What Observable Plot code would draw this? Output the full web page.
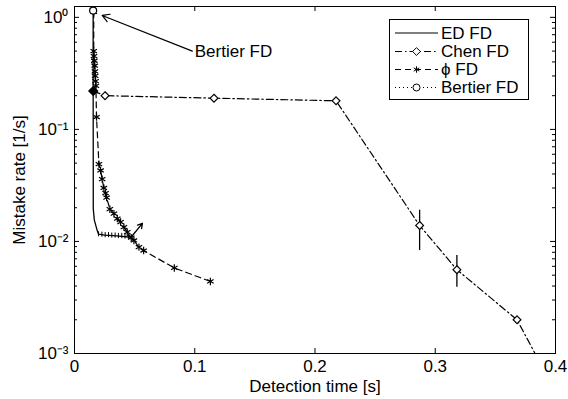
<!DOCTYPE html>
<html><head><meta charset="utf-8">
<script src="https://cdn.jsdelivr.net/npm/d3@7"></script>
<script src="https://cdn.jsdelivr.net/npm/@observablehq/plot@0.6"></script>
<style>
html,body{margin:0;padding:0;background:#fff;}
#chart{width:568px;height:399px;}
</style></head><body><div id="chart"></div>
<script>
// ---- data ----
const xTicks = [0, 0.1, 0.2, 0.3, 0.4];
const xTickLabels = ["0", "0.1", "0.2", "0.3", "0.4"];
const yTicks = [0.001, 0.01, 0.1, 1];
const yTickLabels = ["10\u207B\u00B3", "10\u207B\u00B2", "10\u207B\u00B9", "10\u2070"];
const yMinorTicks = [0.002,0.003,0.004,0.005,0.006,0.007,0.008,0.009,
                     0.02,0.03,0.04,0.05,0.06,0.07,0.08,0.09,
                     0.2,0.3,0.4,0.5,0.6,0.7,0.8,0.9];

const seriesNames = ["ED FD", "Chen FD", "\u03D5 FD", "Bertier FD"];

// ED FD (solid)
const edX = [0.0155, 0.0155, 0.0156, 0.0156, 0.0165, 0.0189, 0.0200, 0.0250, 0.0350, 0.0470];
const edY = [1.15,   0.25,   0.05,   0.0196, 0.0155, 0.0125, 0.0116, 0.0114, 0.0112, 0.0109];
const edTailX = [0.0470, 0.0565];
const edTailY = [0.0109, 0.0145];
const edErrX  = [0.0200, 0.0228, 0.0255, 0.0283, 0.0310, 0.0338, 0.0365, 0.0393, 0.0420, 0.0448];
const edErrLo = [0.0110, 0.0109, 0.0108, 0.0108, 0.0107, 0.0107, 0.0106, 0.0106, 0.0105, 0.0104];
const edErrHi = [0.0122, 0.0121, 0.0120, 0.0120, 0.0119, 0.0119, 0.0118, 0.0118, 0.0117, 0.0116];

// Chen FD (dash-dot, diamonds)
const chenX = [0.0156, 0.0254, 0.116, 0.2175, 0.287,  0.318,  0.368,  0.383];
const chenY = [0.22,   0.20,   0.19,  0.18,   0.0139, 0.0056, 0.0020, 0.0010];
const chenErrX  = [0.287,  0.318];
const chenErrLo = [0.0083, 0.0039];
const chenErrHi = [0.019,  0.0075];

// phi FD (dashed, asterisks)
const phiX = [0.0160, 0.0160, 0.0162, 0.0165, 0.0168, 0.0170, 0.0172, 0.0175, 0.0178, 0.0183,
              0.0203, 0.0217, 0.0230, 0.0244, 0.0258, 0.0267, 0.0294, 0.0328, 0.0356, 0.0383,
              0.0411, 0.0439, 0.0472, 0.0494, 0.0536, 0.0575, 0.083, 0.113];
const phiY = [1.12,   0.50,   0.45,   0.41,   0.37,   0.33,   0.30,   0.27,   0.245,  0.129,
              0.049,  0.043,  0.036,  0.030,  0.027,  0.0246, 0.0194, 0.0177, 0.0160, 0.0149,
              0.0134, 0.0121, 0.0108, 0.0102, 0.0089, 0.0083, 0.0058, 0.0044];

// Bertier FD (dotted, circles)
const bertX = [0.0155];
const bertY = [1.15];

// annotation
const annText = "Bertier FD";
const annX = 0.1, annY = 0.5;
const annArrowX = [0.098, 0.023];
const annArrowY = [0.50, 1.04];

// ---- build ----
const pts = (xs, ys) => xs.map((x, i) => ({x, y: ys[i]}));
const ed = pts(edX, edY);
const chen = pts(chenX, chenY);
const phi = pts(phiX, phiY);
const bert = pts(bertX, bertY);
const edErr = edErrX.map((x, i) => ({x, lo: edErrLo[i], hi: edErrHi[i]}));
const chenErr = chenErrX.map((x, i) => ({x, lo: chenErrLo[i], hi: chenErrHi[i]}));

const W = 568, H = 399, mL = 74, mR = 13, mT = 6, mB = 46;
const pw = W - mL - mR, ph = H - mT - mB;
const font = "'Liberation Sans', Arial, Helvetica, sans-serif";
const fs = 17;

const plot = Plot.plot({
  width: W, height: H,
  marginLeft: mL, marginRight: mR, marginTop: mT, marginBottom: mB,
  style: {fontFamily: font, fontSize: fs + "px", background: "#fff", color: "#000"},
  x: {domain: [0, 0.4]},
  y: {type: "log", domain: [0.001, 1.25]},
  marks: [
    Plot.axisX({ticks: xTicks, tickSize: 0, tickPadding: 6,
      tickFormat: d => xTickLabels[xTicks.indexOf(d)],
      label: "Detection time [s]", labelAnchor: "center", labelOffset: 38, labelArrow: "none"}),
    Plot.axisY({ticks: yTicks, tickSize: 0, tickPadding: 6,
      tickFormat: d => yTickLabels[yTicks.indexOf(d)],
      label: "Mistake rate [1/s]", labelAnchor: "center", labelOffset: 62, labelArrow: "none"}),
    // inward ticks
    Plot.tickX(xTicks, {insetTop: ph - 5, stroke: "#000"}),
    Plot.tickX(xTicks, {insetBottom: ph - 5, stroke: "#000"}),
    Plot.tickY(yTicks, {insetRight: pw - 5, stroke: "#000"}),
    Plot.tickY(yTicks, {insetLeft: pw - 5, stroke: "#000"}),
    Plot.tickY(yMinorTicks, {insetRight: pw - 3, stroke: "#000"}),
    Plot.tickY(yMinorTicks, {insetLeft: pw - 3, stroke: "#000"}),
    // series
    Plot.line(chen, {x: "x", y: "y", stroke: "#000", strokeWidth: 1.2, strokeDasharray: "7,3,1.5,3"}),
    Plot.ruleX(chenErr, {x: "x", y1: "lo", y2: "hi", stroke: "#000", strokeWidth: 1.3}),
    Plot.line(phi, {x: "x", y: "y", stroke: "#000", strokeWidth: 1.2, strokeDasharray: "6,4"}),
    Plot.line(ed, {x: "x", y: "y", stroke: "#000", strokeWidth: 1.3}),
    Plot.arrow([0], {x1: () => edTailX[0], y1: () => edTailY[0], x2: () => edTailX[1], y2: () => edTailY[1],
      stroke: "#000", strokeWidth: 1.3, headLength: 6}),
    Plot.ruleX(edErr, {x: "x", y1: "lo", y2: "hi", stroke: "#000", strokeWidth: 1}),
    Plot.dot(phi, {x: "x", y: "y", symbol: "asterisk", r: 3.5, stroke: "#000", strokeWidth: 1.2}),
    Plot.dot(chen.slice(1, 7), {x: "x", y: "y", symbol: "diamond2", r: 3.5, fill: "#fff", stroke: "#000", strokeWidth: 1.2}),
    Plot.dot(chen.slice(0, 1), {x: "x", y: "y", symbol: "diamond2", r: 3.8, fill: "#000", stroke: "#000"}),
    Plot.line(bert, {x: "x", y: "y", stroke: "#000", strokeDasharray: "1,3"}),
    Plot.dot(bert, {x: "x", y: "y", symbol: "circle", r: 3.5, fill: "#fff", stroke: "#000", strokeWidth: 1.2}),
    // annotation
    Plot.arrow([0], {x1: () => annArrowX[0], y1: () => annArrowY[0], x2: () => annArrowX[1], y2: () => annArrowY[1],
      stroke: "#000", strokeWidth: 1.2, headLength: 10}),
    Plot.text([annText], {x: () => annX, y: () => annY, text: d => d, textAnchor: "start", fontSize: fs, fill: "#000"}),
    Plot.frame({stroke: "#000"})
  ]
});

// ---- legend ----
const svg = d3.select(plot);
const lg = svg.append("g").attr("font-family", font).attr("font-size", fs).attr("text-anchor", "start");
const bx = 389.5, by = 19.5, bw = 139, bh = 80;
lg.append("rect").attr("x", bx).attr("y", by).attr("width", bw).attr("height", bh)
  .attr("fill", "#fff").attr("stroke", "#000");
const rows = [33, 51.5, 69.5, 87.5];
const dashes = [null, "7,3,1.5,3", "6,4", "1,3"];
const syms = [null, d3.symbolDiamond2, d3.symbolAsterisk, d3.symbolCircle];
const symR = [0, 3.5, 3, 3.5];
seriesNames.forEach((name, i) => {
  const yy = rows[i];
  lg.append("line").attr("x1", 395).attr("x2", 438).attr("y1", yy).attr("y2", yy)
    .attr("stroke", "#000").attr("stroke-width", 1.1).attr("stroke-dasharray", dashes[i]);
  if (syms[i]) {
    lg.append("path").attr("transform", `translate(416.5,${yy})`)
      .attr("d", d3.symbol(syms[i], symR[i] * symR[i] * Math.PI)())
      .attr("fill", i === 2 ? "none" : "#fff").attr("stroke", "#000");
  }
  lg.append("text").attr("x", 441).attr("y", yy).attr("dy", "0.35em").attr("fill", "#000")
    .attr("text-anchor", "start").text(name);
});

document.getElementById("chart").appendChild(plot);
</script></body></html>
